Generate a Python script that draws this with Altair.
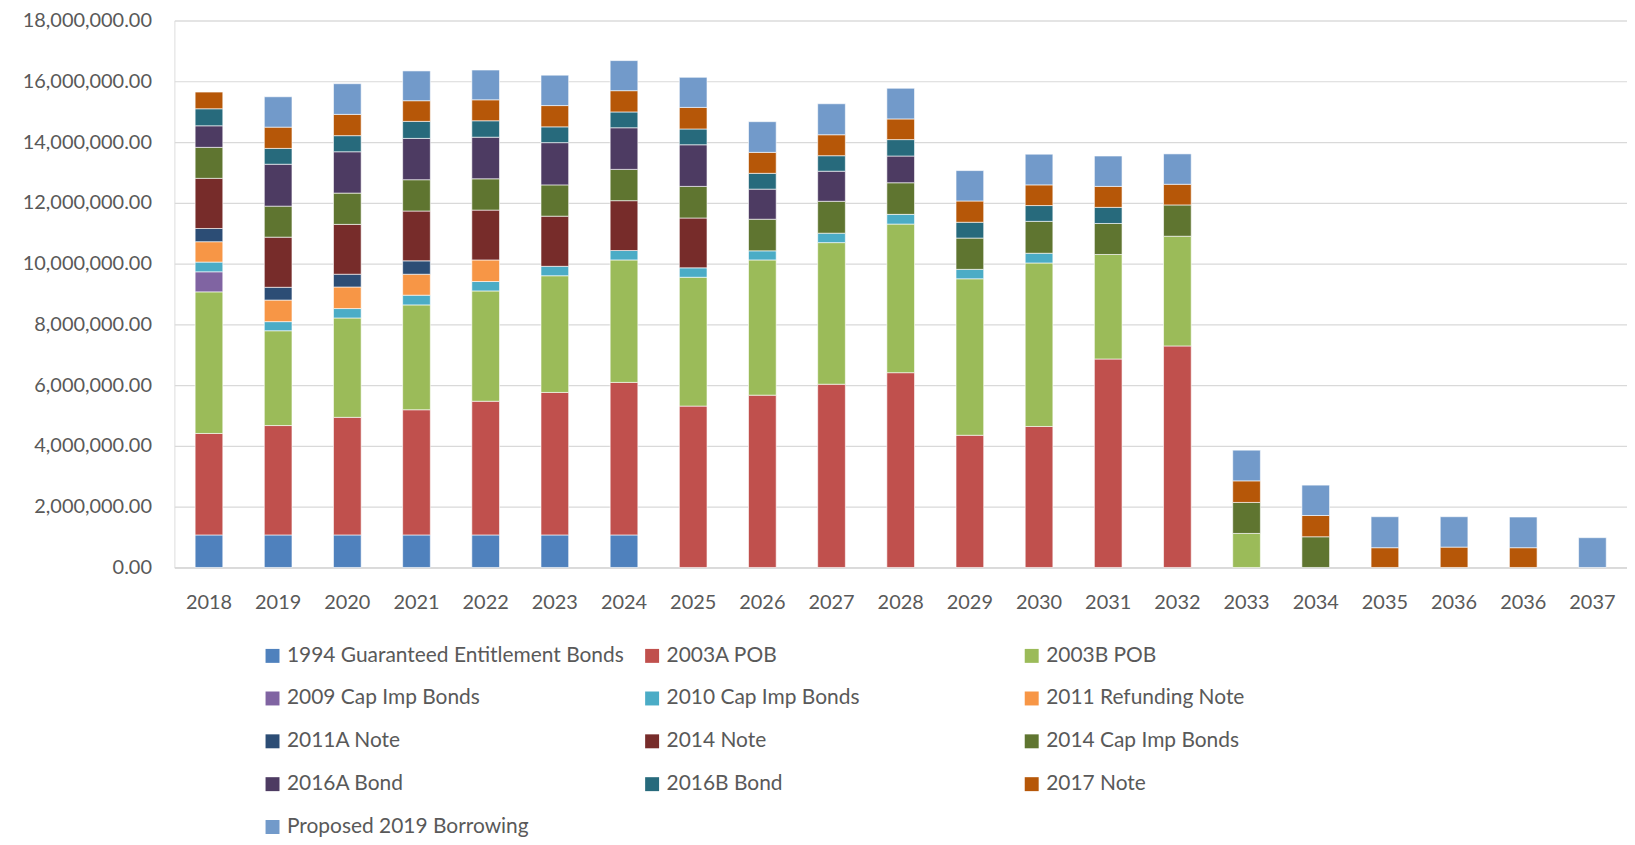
import json
import altair as alt
import pandas as pd

years = ["2018", "2019", "2020", "2021", "2022", "2023", "2024", "2025", "2026", "2027",
         "2028", "2029", "2030", "2031", "2032", "2033", "2034", "2035", "2036", "2036", "2037"]

series = ["1994 Guaranteed Entitlement Bonds", "2003A POB", "2003B POB",
          "2009 Cap Imp Bonds", "2010 Cap Imp Bonds", "2011 Refunding Note",
          "2011A Note", "2014 Note", "2014 Cap Imp Bonds",
          "2016A Bond", "2016B Bond", "2017 Note", "Proposed 2019 Borrowing"]

colors = ["#4F81BD", "#C0504D", "#9BBB59", "#8064A2", "#4BACC6", "#F79646",
          "#2C4D75", "#772C2A", "#5F7530", "#4D3B62", "#276A7C", "#B65708", "#729ACA"]

# values per series (dollars), one per year position
geb_1994 = [1070000, 1070000, 1070000, 1070000, 1070000, 1070000, 1070000, 0, 0, 0,
            0, 0, 0, 0, 0, 0, 0, 0, 0, 0, 0]
pob_2003a = [3340000, 3600000, 3870000, 4120000, 4400000, 4690000, 5020000, 5310000, 5670000, 6030000,
             6410000, 4350000, 4640000, 6860000, 7290000, 0, 0, 0, 0, 0, 0]
pob_2003b = [4660000, 3120000, 3270000, 3450000, 3630000, 3840000, 4030000, 4240000, 4450000, 4660000,
             4890000, 5150000, 5380000, 3440000, 3610000, 1120000, 0, 0, 0, 0, 0]
cap_2009 = [660000, 0, 0, 0, 0, 0, 0, 0, 0, 0,
            0, 0, 0, 0, 0, 0, 0, 0, 0, 0, 0]
cap_2010 = [320000, 300000, 310000, 320000, 310000, 310000, 310000, 310000, 300000, 310000,
            320000, 310000, 320000, 0, 0, 0, 0, 0, 0, 0, 0]
ref_2011 = [670000, 710000, 710000, 690000, 710000, 0, 0, 0, 0, 0,
            0, 0, 0, 0, 0, 0, 0, 0, 0, 0, 0]
note_2011a = [435000, 420000, 420000, 440000, 0, 0, 0, 0, 0, 0,
              0, 0, 0, 0, 0, 0, 0, 0, 0, 0, 0]
note_2014 = [1650000, 1650000, 1640000, 1640000, 1640000, 1650000, 1640000, 1640000, 0, 0,
             0, 0, 0, 0, 0, 0, 0, 0, 0, 0, 0]
cap_2014 = [1020000, 1020000, 1030000, 1030000, 1030000, 1030000, 1030000, 1040000, 1040000, 1050000,
            1040000, 1030000, 1050000, 1020000, 1030000, 1020000, 1010000, 0, 0, 0, 0]
bond_2016a = [710000, 1380000, 1360000, 1360000, 1370000, 1390000, 1370000, 1370000, 990000, 990000,
              880000, 0, 0, 0, 0, 0, 0, 0, 0, 0, 0]
bond_2016b = [560000, 520000, 530000, 560000, 540000, 520000, 520000, 520000, 520000, 510000,
              540000, 520000, 520000, 530000, 0, 0, 0, 0, 0, 0, 0]
note_2017 = [550000, 700000, 700000, 680000, 690000, 700000, 700000, 710000, 690000, 690000,
             680000, 700000, 680000, 690000, 680000, 710000, 700000, 650000, 670000, 650000, 0]
proposed_2019 = [0, 1000000, 1010000, 980000, 980000, 1000000, 990000, 990000, 1010000, 1020000,
                 1010000, 1000000, 1010000, 1000000, 1000000, 1010000, 1000000, 1020000, 1000000, 1010000, 980000]

all_values = [geb_1994, pob_2003a, pob_2003b, cap_2009, cap_2010, ref_2011, note_2011a,
              note_2014, cap_2014, bond_2016a, bond_2016b, note_2017, proposed_2019]

rows = []
for si, (name, vals) in enumerate(zip(series, all_values)):
    for pi, v in enumerate(vals):
        if v > 0:
            rows.append({"pos": pi, "series": name, "order": si, "value": v})
df = pd.DataFrame(rows)

FONT = "Lato"
TXT = "#595959"
GRID = "#D9D9D9"

label_expr = json.dumps(years) + "[datum.value]"

chart = alt.Chart(df).mark_bar(stroke="white", strokeWidth=0.6).encode(
    x=alt.X("pos:O",
            scale=alt.Scale(paddingInner=0.6, paddingOuter=0.3),
            axis=alt.Axis(title=None, labelExpr=label_expr, labelAngle=0,
                          labelFont=FONT, labelFontSize=20, labelColor=TXT,
                          ticks=False, labelPadding=25, domainColor=GRID,
                          domainWidth=1.5, grid=False)),
    y=alt.Y("value:Q", stack="zero",
            scale=alt.Scale(domain=[0, 18000000], nice=False),
            axis=alt.Axis(title=None, format=",.2f",
                          values=[0, 2000000, 4000000, 6000000, 8000000, 10000000,
                                  12000000, 14000000, 16000000, 18000000],
                          labelFont=FONT, labelFontSize=20, labelColor=TXT,
                          ticks=False, domain=False, labelPadding=23,
                          gridColor=GRID, gridWidth=1.2)),
    color=alt.Color("series:N",
                    scale=alt.Scale(domain=series, range=colors),
                    legend=alt.Legend(title=None, orient="none", legendX=88, legendY=627,
                                      direction="horizontal", columns=3, gridAlign="all",
                                      columnPadding=17, rowPadding=21,
                                      symbolType="square", symbolSize=196,
                                      symbolStrokeWidth=0, labelOffset=4, labelLimit=600,
                                      labelFont=FONT, labelFontSize=21, labelColor=TXT,
                                      padding=0)),
    order=alt.Order("order:Q", sort="ascending"),
).properties(
    width=1458, height=549,
    autosize=alt.AutoSizeParams(type="none"),
    padding={"left": 167, "top": 11, "right": 0, "bottom": 269},
).configure_view(stroke=None).configure(background="white")

chart.save("out.html", embed_options={"renderer": "svg", "actions": False})
